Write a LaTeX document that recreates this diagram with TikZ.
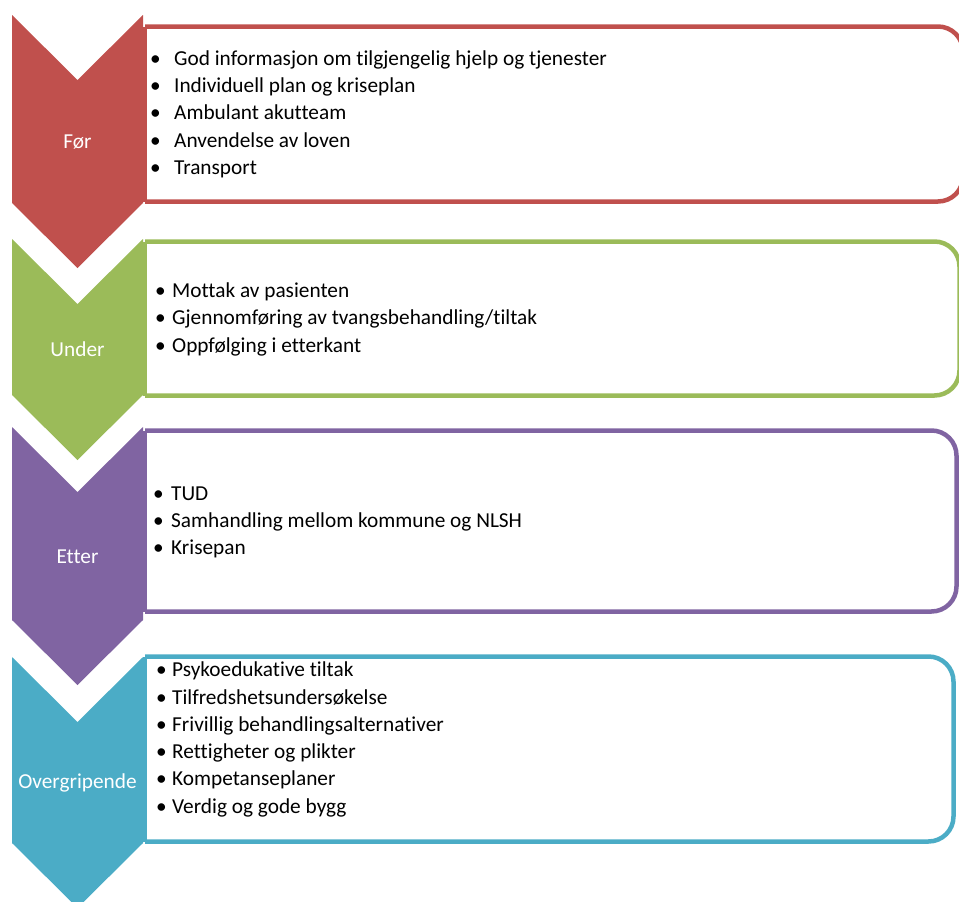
\documentclass[tikz,border=0pt]{standalone}
\usepackage{fontspec}
\setmainfont[Ligatures=NoCommon]{Carlito}
\definecolor{forcol}{HTML}{C0504D}
\definecolor{undercol}{HTML}{9BBB59}
\definecolor{ettercol}{HTML}{8064A2}
\definecolor{overcol}{HTML}{4BACC6}
\newcommand{\itm}[2][24pt]{\makebox[#1][l]{•}#2}
\tikzset{
	stagebox/.style={draw=#1, line width=4.5pt, rounded corners=25pt},
	stagelbl/.style={text=white, inner sep=0pt, anchor=base, font=\fontsize{21.3}{25}\selectfont},
	item/.style={inner sep=0pt, anchor=base west, font=\fontsize{21.3}{25}\selectfont}
}

\begin{document}
\begin{tikzpicture}[x=1pt, y=-1pt]
	\useasboundingbox (0,0) rectangle (959,902);
	% chevrons and boxes
	\foreach \ct/\cb/\bt/\bb/\r/\c/\lbl/\base [count=\i] in {15/203/26.5/201.5/963/forcol/Før/148, 239/395/241.5/395.5/959.5/undercol/Under/356, 427/620/430.5/611.5/956.5/ettercol/Etter/563, 657/843/656.5/841.5/953.5/overcol/Overgripende/788} {
		\draw[stagebox=\c] (145,\bt) -- (\r,\bt) -- (\r,\bb) -- (145,\bb);
		\draw[stagebox=\c, sharp corners, line cap=square] (145,\bt) -- (145,\bb);
		\fill[fill=\c] (12,\ct) -- (77.5,{\ct+65}) -- (143,\ct) -- (143,\cb) -- (77.5,{\cb+65}) -- (12,\cb) -- cycle;
		\node[stagelbl] (lbl\i) at (77.5,\base) {\lbl};
		}
	% bullet lists
	\foreach \t [count=\i] in {God informasjon om tilgjengelig hjelp og tjenester, Individuell plan og kriseplan, Ambulant akutteam, Anvendelse av loven, Transport}
		\node[item] (for\i) at (150,{65+27.4*(\i-1)}) {\itm[24pt]{\t}};
	\foreach \t [count=\i] in {Mottak av pasienten, {Gjennomføring av tvangsbehandling/tiltak}, Oppfølging i etterkant}
		\node[item] (under\i) at (155,{297.3+27.4*(\i-1)}) {\itm[17pt]{\t}};
	\foreach \t [count=\i] in {TUD, Samhandling mellom kommune og NLSH, Krisepan}
		\node[item] (etter\i) at (153,{500+27.4*(\i-1)}) {\itm[18pt]{\t}};
	\foreach \t [count=\i] in {Psykoedukative tiltak, Tilfredshetsundersøkelse, Frivillig behandlingsalternativer, Rettigheter og plikter, Kompetanseplaner, Verdig og gode bygg}
		\node[item] (over\i) at (156,{676.7+27.3*(\i-1)}) {\itm[16pt]{\t}};
\end{tikzpicture}
\end{document}
